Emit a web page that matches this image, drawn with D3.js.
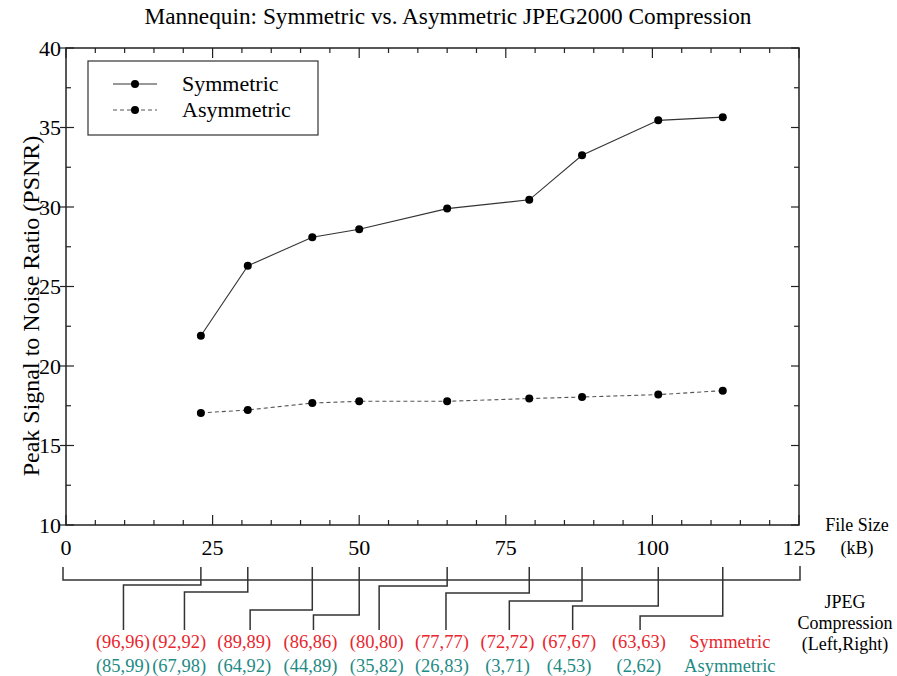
<!DOCTYPE html>
<html>
<head>
<meta charset="utf-8">
<script src="https://cdn.jsdelivr.net/npm/d3@7"></script>
<style>
  body { margin: 0; background: #fff; }
</style>
</head>
<body>
<svg></svg>
<script>
const width = 897, height = 676;
const serif = "'Liberation Serif', 'Times New Roman', serif";

// data: file size (kB) vs PSNR
const fileSize = [23, 31, 42, 50, 65, 79, 88, 101, 112];
const symmetric = [21.9, 26.3, 28.1, 28.6, 29.9, 30.45, 33.25, 35.45, 35.65];
const asymmetric = [17.05, 17.23, 17.67, 17.78, 17.78, 17.95, 18.05, 18.2, 18.45];

// JPEG compression (left,right) per point
const symLabels = ["(96,96)", "(92,92)", "(89,89)", "(86,86)", "(80,80)", "(77,77)", "(72,72)", "(67,67)", "(63,63)"];
const asymLabels = ["(85,99)", "(67,98)", "(64,92)", "(44,89)", "(35,82)", "(26,83)", "(3,71)", "(4,53)", "(2,62)"];
// label column centres and connector ends, in file size units
const labelAt = [9.7, 19.3, 30.4, 41.7, 53.0, 64.1, 75.3, 85.8, 97.7];
const connectAt = [9.8, 20.2, 31.4, 42.2, 53.4, 64.8, 75.6, 86.4, 97.9];
const legendAt = 113.2;

const xTicks = [0, 25, 50, 75, 100, 125];
const yTicks = [10, 15, 20, 25, 30, 35, 40];

const red = "#e8262e", teal = "#1e8a84";

const svg = d3.select("svg").attr("width", width).attr("height", height)
    .attr("font-family", serif);

const x = d3.scaleLinear().domain([0, 125]).range([66, 799]);
const y = d3.scaleLinear().domain([10, 40]).range([525, 48]);

// title
svg.append("text")
    .attr("x", 448).attr("y", 24)
    .attr("text-anchor", "middle")
    .attr("font-size", "23.3px")
    .text("Mannequin: Symmetric vs. Asymmetric JPEG2000 Compression");

// frame
svg.append("rect")
    .attr("x", x(0)).attr("y", y(40))
    .attr("width", x(125) - x(0)).attr("height", y(10) - y(40))
    .attr("fill", "none").attr("stroke", "#222").attr("stroke-width", 1.5);

// ticks, all four sides
const minorX = d3.range(0, 126, 5);
const minorY = d3.range(10, 40.1, 2.5);
const tk = svg.append("g").attr("stroke", "#222").attr("stroke-width", 1.2);

minorX.forEach(v => {
    const len = v % 25 === 0 ? 10 : 5;
    tk.append("line").attr("x1", x(v)).attr("x2", x(v)).attr("y1", y(10)).attr("y2", y(10) - len);
    tk.append("line").attr("x1", x(v)).attr("x2", x(v)).attr("y1", y(40)).attr("y2", y(40) + len);
});
minorY.forEach(v => {
    const major = v % 5 === 0;
    tk.append("line").attr("x1", x(0) - (major ? 6 : 0)).attr("x2", x(0) + (major ? 8 : 5)).attr("y1", y(v)).attr("y2", y(v));
    tk.append("line").attr("x1", x(125)).attr("x2", x(125) - (major ? 8 : 5)).attr("y1", y(v)).attr("y2", y(v));
});

// tick labels
svg.append("g").selectAll("text").data(yTicks).join("text")
    .attr("x", 61).attr("y", d => y(d) + 7.5)
    .attr("text-anchor", "end").attr("font-size", "22px")
    .text(d => d);
svg.append("g").selectAll("text").data(xTicks).join("text")
    .attr("x", d => x(d)).attr("y", 555)
    .attr("text-anchor", "middle").attr("font-size", "22px")
    .text(d => d);

// axis titles
svg.append("text")
    .attr("transform", "translate(39,306) rotate(-90)")
    .attr("text-anchor", "middle").attr("font-size", "24px")
    .text("Peak Signal to Noise Ratio (PSNR)");
svg.append("text").attr("x", 857).attr("y", 531)
    .attr("text-anchor", "middle").attr("font-size", "18px").text("File Size");
svg.append("text").attr("x", 857).attr("y", 554)
    .attr("text-anchor", "middle").attr("font-size", "18px").text("(kB)");

// series
const line = d3.line().x((d, i) => x(fileSize[i])).y(d => y(d));

svg.append("path").datum(symmetric)
    .attr("d", line).attr("fill", "none")
    .attr("stroke", "#333").attr("stroke-width", 1.1);
svg.append("path").datum(asymmetric)
    .attr("d", line).attr("fill", "none")
    .attr("stroke", "#555").attr("stroke-width", 1.1)
    .attr("stroke-dasharray", "4,3");

[symmetric, asymmetric].forEach(s => {
    svg.append("g").selectAll("circle").data(s).join("circle")
        .attr("cx", (d, i) => x(fileSize[i])).attr("cy", d => y(d))
        .attr("r", 4).attr("fill", "#000");
});

// legend
const lg = svg.append("g");
lg.append("rect").attr("x", 88).attr("y", 61).attr("width", 230).attr("height", 74)
    .attr("fill", "#fff").attr("stroke", "#333").attr("stroke-width", 1.2);
[["Symmetric", null, 84], ["Asymmetric", "4,3", 110]].forEach(([name, dash, ly]) => {
    lg.append("line").attr("x1", 113).attr("x2", 157).attr("y1", ly).attr("y2", ly)
        .attr("stroke", dash ? "#555" : "#333").attr("stroke-width", 1.1)
        .attr("stroke-dasharray", dash);
    lg.append("circle").attr("cx", 135).attr("cy", ly).attr("r", 4).attr("fill", "#000");
    lg.append("text").attr("x", 182).attr("y", ly + 7).attr("font-size", "22px").text(name);
});

// compression annotation: bracket and connectors
const dropY = [585, 592, 610, 615, 586, 593, 601, 606, 616];
const br = svg.append("g").attr("stroke", "#333").attr("stroke-width", 1.5).attr("fill", "none");
br.append("path").attr("d", `M${x(0) - 3},567V580H${x(125) + 1}V566`);
fileSize.forEach((f, i) => {
    br.append("path").attr("d", `M${x(f)},567V${dropY[i]}H${x(connectAt[i])}V630`);
});

svg.append("g").selectAll("text").data(symLabels).join("text")
    .attr("x", (d, i) => x(labelAt[i])).attr("y", 648)
    .attr("text-anchor", "middle").attr("font-size", "18.5px").attr("fill", red)
    .text(d => d);
svg.append("g").selectAll("text").data(asymLabels).join("text")
    .attr("x", (d, i) => x(labelAt[i])).attr("y", 672)
    .attr("text-anchor", "middle").attr("font-size", "18.5px").attr("fill", teal)
    .text(d => d);
svg.append("text").attr("x", x(legendAt)).attr("y", 648)
    .attr("text-anchor", "middle").attr("font-size", "18.5px").attr("fill", red).text("Symmetric");
svg.append("text").attr("x", x(legendAt)).attr("y", 672)
    .attr("text-anchor", "middle").attr("font-size", "18.5px").attr("fill", teal).text("Asymmetric");

["JPEG", "Compression", "(Left,Right)"].forEach((t, i) => {
    svg.append("text").attr("x", 845).attr("y", 608 + i * 21)
        .attr("text-anchor", "middle").attr("font-size", "18px").text(t);
});
</script>
</body>
</html>
